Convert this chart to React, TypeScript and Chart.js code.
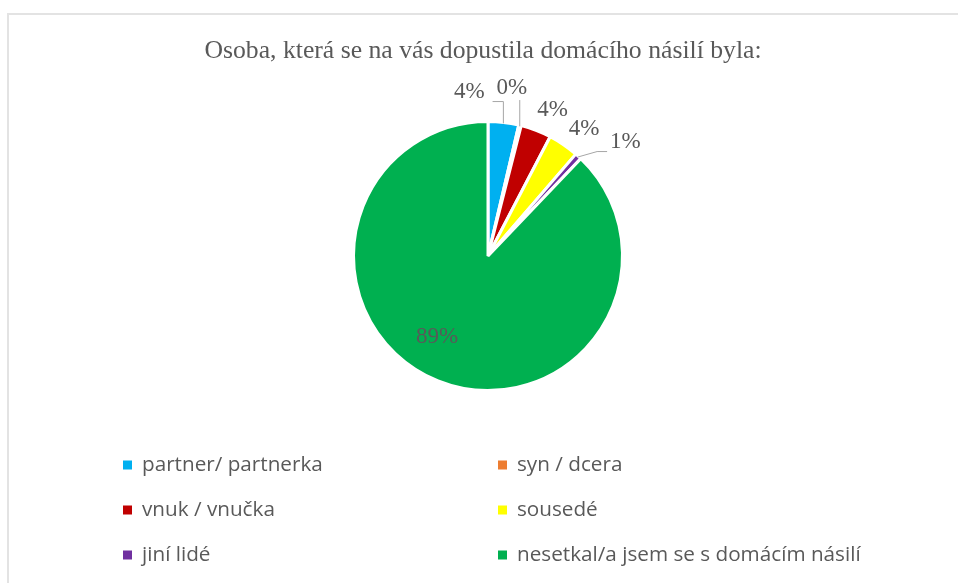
import React, { useEffect, useRef } from "react";
import { Chart, registerables } from "chart.js";

Chart.register(...registerables);

const TITLE = "Osoba, která se na vás dopustila domácího násilí byla:";
const categories = [
  "partner/ partnerka",
  "syn / dcera",
  "vnuk / vnučka",
  "sousedé",
  "jiní lidé",
  "nesetkal/a jsem se s domácím násilí",
];
const shares = [3.7, 0.3, 3.7, 3.7, 0.8, 88.5];
const sliceColors = ["#00B0F0", "#ED7D31", "#C00000", "#FFFF00", "#7030A0", "#00B050"];

// label placement tweaks (pixel nudges from the default position) and leader flags
const labelNudges: [number, number][] = [
  [-37, -7],
  [-14, -14],
  [8, 2],
  [7, 4],
  [31, 3],
  [-16, -6],
];
const labelLeaders = [true, true, false, false, true, false];
const labelInside = [false, false, false, false, false, true];

const TEXT_GRAY = "#595959";
const SERIF = "'Liberation Serif', 'DejaVu Serif', serif";
const SANS = "'Open Sans', 'Noto Sans', sans-serif";

const decorPlugin = {
  id: "decor",
  afterDraw(chart: any) {
    const ctx: CanvasRenderingContext2D = chart.ctx;
    const meta = chart.getDatasetMeta(0);
    const ds = chart.data.datasets[0];
    ctx.save();

    // title
    ctx.fillStyle = TEXT_GRAY;
    ctx.font = `25.7px ${SERIF}`;
    ctx.textAlign = "center";
    ctx.textBaseline = "middle";
    ctx.fillText(TITLE, 483, 51);

    // data labels
    ctx.font = `23px ${SERIF}`;
    meta.data.forEach((arc: any, i: number) => {
      const p = arc.getProps(["x", "y", "startAngle", "endAngle", "outerRadius"], true);
      const mid = (p.startAngle + p.endAngle) / 2;
      const R = labelInside[i] ? p.outerRadius * 0.7 : p.outerRadius + 24;
      const cx = p.x + Math.cos(mid) * R + labelNudges[i][0];
      const cy = p.y + Math.sin(mid) * R + labelNudges[i][1];
      const txt = Math.round(ds.data[i]) + "%";
      ctx.fillStyle = TEXT_GRAY;
      ctx.textAlign = "center";
      ctx.textBaseline = "middle";
      ctx.fillText(txt, cx, cy);
      if (labelLeaders[i]) {
        const w = ctx.measureText(txt).width;
        const left = cx - w / 2;
        const right = cx + w / 2;
        const px = p.x + Math.cos(mid) * (p.outerRadius - 1);
        const py = p.y + Math.sin(mid) * (p.outerRadius - 1);
        const ey = cy + 10;
        ctx.strokeStyle = "#A6A6A6";
        ctx.lineWidth = 1;
        ctx.beginPath();
        ctx.moveTo(px, py);
        if (left > px) {
          ctx.lineTo(left - 13, ey);
          ctx.lineTo(left - 3, ey);
        } else if (right < px) {
          ctx.lineTo(px, ey);
          ctx.lineTo(right + 8, ey);
        } else {
          ctx.lineTo(px, ey + 2);
        }
        ctx.stroke();
      }
    });

    // legend (two columns)
    const colX = [123, 498];
    const rowY = [465, 510, 555];
    ctx.font = `20.7px ${SANS}`;
    ctx.textAlign = "left";
    ctx.textBaseline = "middle";
    chart.data.labels.forEach((lab: string, i: number) => {
      const x = colX[i % 2];
      const y = rowY[Math.floor(i / 2)];
      ctx.fillStyle = sliceColors[i];
      ctx.fillRect(x, y - 4.5, 9, 9);
      ctx.fillStyle = TEXT_GRAY;
      ctx.fillText(lab, x + 19, y);
    });
    ctx.restore();
  },
};

export default function App() {
  const ref = useRef<HTMLCanvasElement>(null);
  useEffect(() => {
    if (!ref.current) return;
    const chart = new Chart(ref.current, {
      type: "pie",
      data: {
        labels: categories,
        datasets: [
          {
            data: shares,
            backgroundColor: sliceColors,
            borderColor: "#FFFFFF",
            borderWidth: 3,
            hoverBorderWidth: 3,
            offset: 0,
            hoverOffset: 0,
          },
        ],
      },
      options: {
        animation: false,
        responsive: false,
        events: [],
        layout: { padding: { top: 120, bottom: 191, left: 18, right: 0 } },
        plugins: {
          legend: { display: false },
          title: { display: false },
          tooltip: { enabled: false },
        },
      },
      plugins: [decorPlugin],
    });
    return () => chart.destroy();
  }, []);

  return (
    <div style={{ position: "fixed", left: 0, top: 0, width: 958, height: 583, background: "#fff", overflow: "hidden" }}>
      <div
        style={{
          position: "absolute",
          left: 7,
          top: 13,
          width: 1000,
          height: 600,
          borderLeft: "2px solid #E3E3E3",
          borderTop: "2px solid #E3E3E3",
        }}
      />
      <canvas ref={ref} width={958} height={583} style={{ position: "absolute", left: 0, top: 0 }} />
    </div>
  );
}
